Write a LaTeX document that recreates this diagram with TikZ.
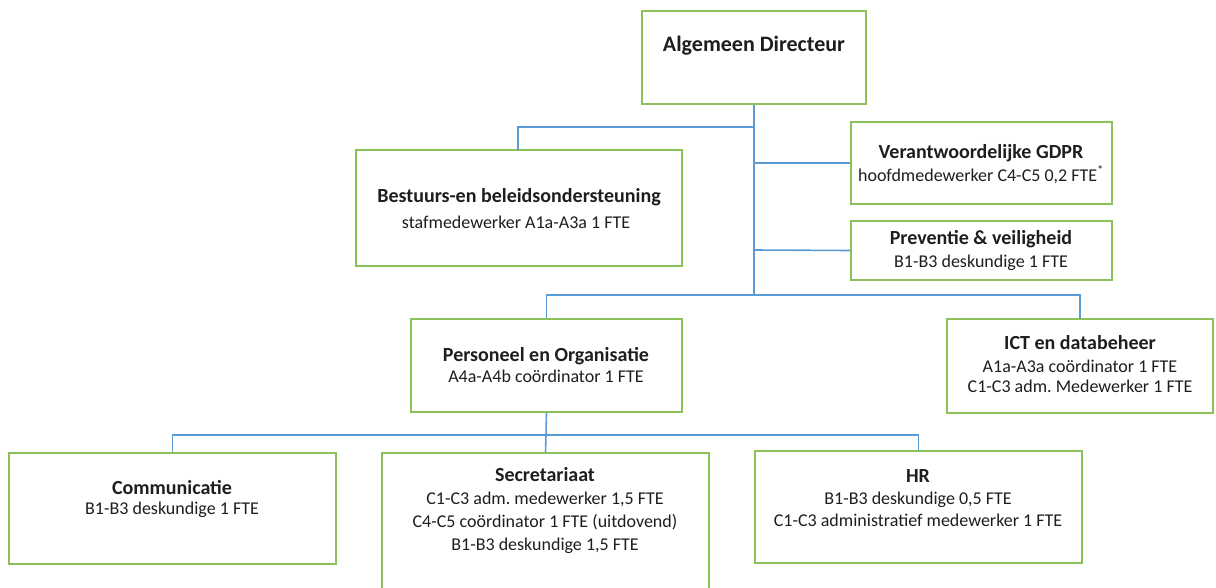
\documentclass[tikz,border=0pt]{standalone}
\usepackage{fontspec}
\setmainfont{Carlito}
\frenchspacing
\definecolor{boxgreen}{HTML}{8CC15A}
\definecolor{lineblue}{HTML}{5B9BD5}
\definecolor{txt}{HTML}{1E1E1E}
\tikzset{
  box/.style={draw=boxgreen, line width=1.6pt, fill=white, inner sep=0pt, rectangle},
  conn/.style={draw=lineblue, line width=1.6pt},
  ttl/.style={anchor=base, inner sep=0pt, text=txt, font=\fontsize{20}{23}\selectfont\bfseries},
  toptl/.style={anchor=base, inner sep=0pt, text=txt, font=\fontsize{22}{26}\selectfont\bfseries},
  sub/.style={anchor=base, inner sep=0pt, text=txt, font=\fontsize{18}{23}\selectfont},
}
\begin{document}
\begin{tikzpicture}[x=1pt,y=-1pt]
\useasboundingbox (0,0) rectangle (1216,587);
\clip (0,0) rectangle (1216,587);
% boxes
\node[box, minimum width=224pt, minimum height=93pt] (dir) at (754,57.5) {};
\node[box, minimum width=326pt, minimum height=116pt] (bes) at (519,208) {};
\node[box, minimum width=261pt, minimum height=82pt] (gdpr) at (981.5,163) {};
\node[box, minimum width=261pt, minimum height=59pt] (prev) at (981.5,250.5) {};
\node[box, minimum width=271pt, minimum height=93pt] (po) at (546.5,365.5) {};
\node[box, minimum width=266pt, minimum height=94pt] (ict) at (1080,366) {};
\node[box, minimum width=327pt, minimum height=111pt] (com) at (172.5,508.5) {};
\node[box, minimum width=327pt, minimum height=150pt] (sec) at (545.5,528) {};
\node[box, minimum width=327pt, minimum height=112pt] (hr) at (918.5,507) {};
% connectors
\coordinate (j1) at (754,127);
\coordinate (j2) at (754,163);
\coordinate (j3) at (754,250);
\coordinate (j4) at (754,295);
\coordinate (j5) at (546,435);
\coordinate (bt) at (518,150);
\draw[conn] (dir.south) -- (j4);
\draw[conn] (j1) -| (bt);
\draw[conn] (j2) -- (gdpr.west);
\draw[conn] (j3) -- (prev.west);
\draw[conn] (j4) -| (po.north);
\draw[conn] (j4) -| (ict.north);
\draw[conn] (po.south) -- (j5);
\draw[conn] (j5) -| (com.north);
\draw[conn] (j5) -- (sec.north);
\draw[conn] (j5) -| (hr.north);
% texts
\node[toptl] (dirT) at (754,51) {Algemeen Directeur};
\node[ttl] (besT) at (519,202) {Bestuurs-en beleidsondersteuning};
\node[sub] (besS) at (516,228) {stafmedewerker A1a-A3a 1 FTE};
\node[ttl] (gdprT) at (981,158) {Verantwoordelijke GDPR};
\node[sub] (gdprS) at (981,181) {hoofdmedewerker C4-C5 0,2 FTE\textsuperscript{*}};
\node[ttl] (prevT) at (981,244) {Preventie \& veiligheid};
\node[sub] (prevS) at (981,267) {B1-B3 deskundige 1 FTE};
\node[ttl] (poT) at (546,361) {Personeel en Organisatie};
\node[sub] (poS) at (546,382) {A4a-A4b coördinator 1 FTE};
\node[ttl] (ictT) at (1080,349) {ICT en databeheer};
\node[sub] (ictS1) at (1080,372) {A1a-A3a coördinator 1 FTE};
\node[sub] (ictS2) at (1080,392) {C1-C3 adm. Medewerker 1 FTE};
\node[ttl] (comT) at (172,494) {Communicatie};
\node[sub] (comS) at (172,514) {B1-B3 deskundige 1 FTE};
\node[ttl] (secT) at (545,481) {Secretariaat};
\node[sub] (secS1) at (545,504) {C1-C3 adm. medewerker 1,5 FTE};
\node[sub] (secS2) at (545,527) {C4-C5 coördinator 1 FTE (uitdovend)};
\node[sub] (secS3) at (545,550) {B1-B3 deskundige 1,5 FTE};
\node[ttl] (hrT) at (918,482) {HR};
\node[sub] (hrS1) at (918,504) {B1-B3 deskundige 0,5 FTE};
\node[sub] (hrS2) at (918,526) {C1-C3 administratief medewerker 1 FTE};
\end{tikzpicture}
\end{document}
